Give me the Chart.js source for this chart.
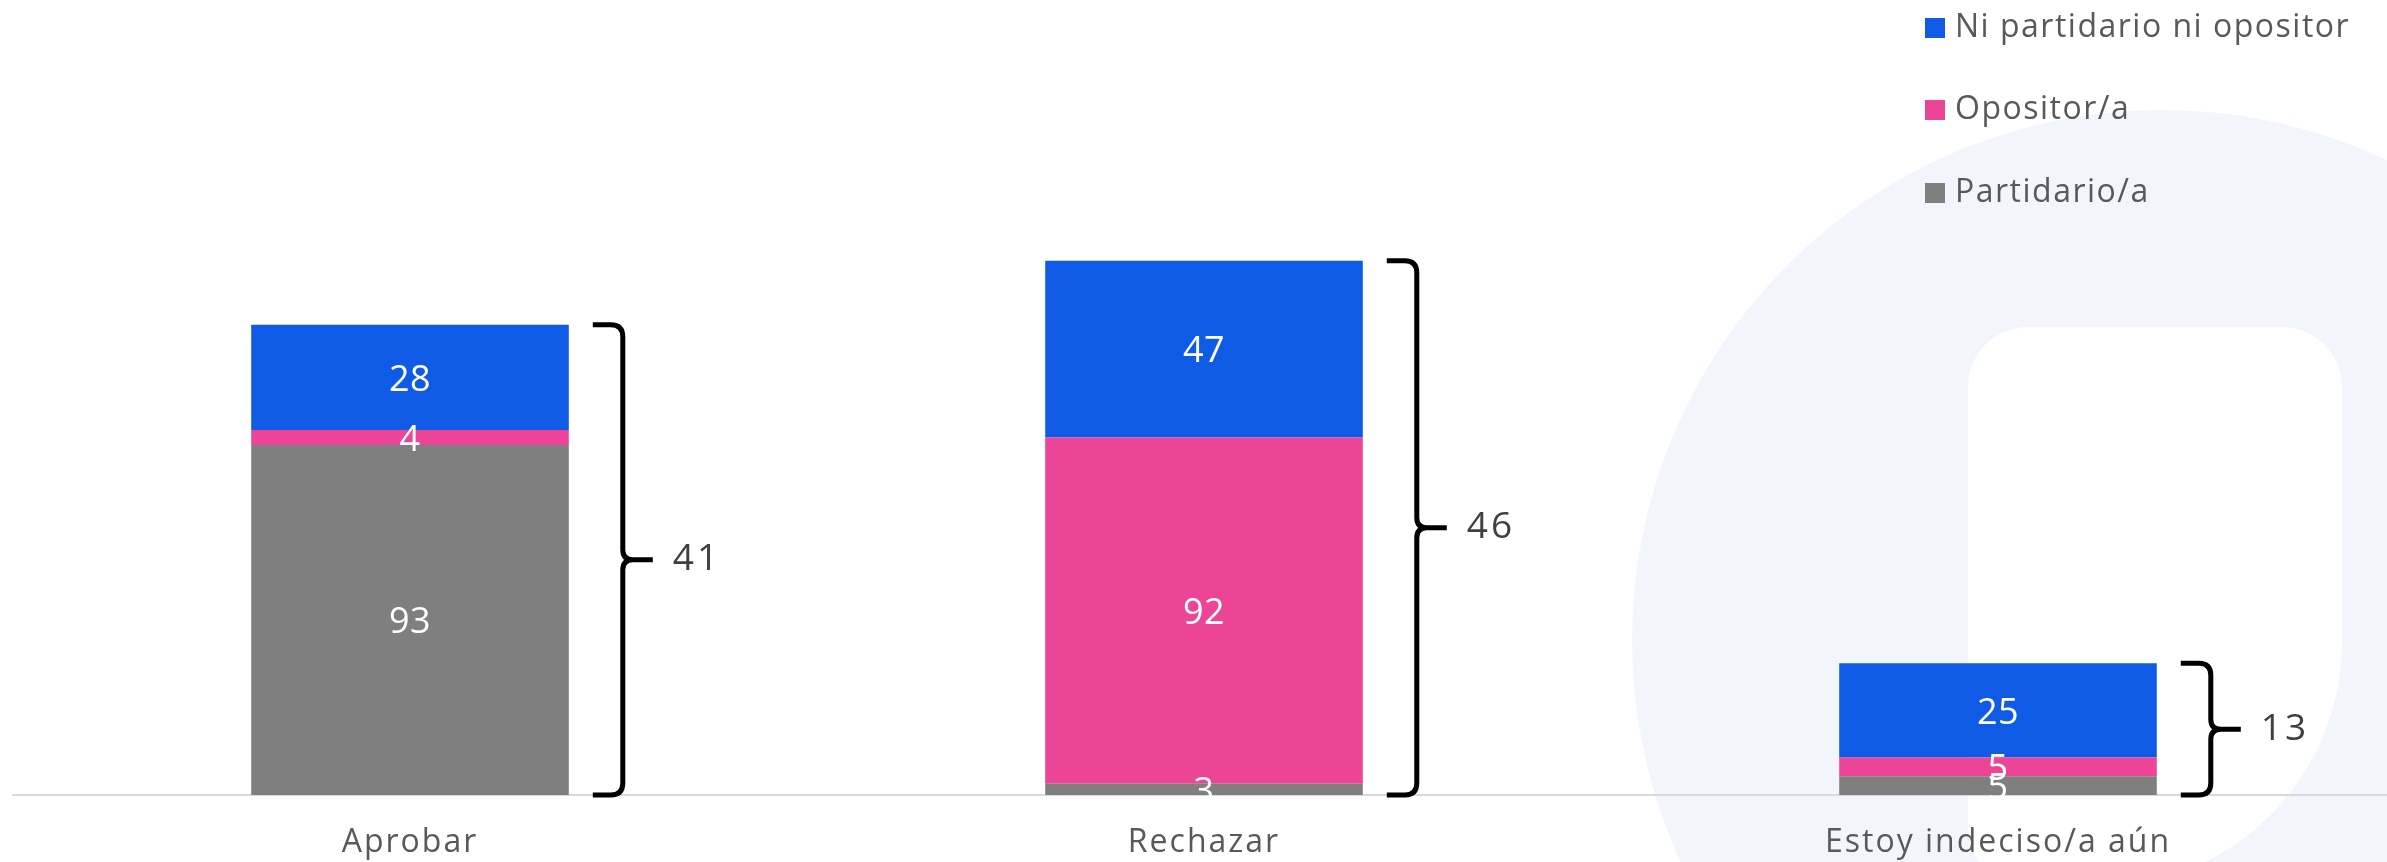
<!DOCTYPE html>
<html>
<head>
<meta charset="utf-8">
<script src="https://cdn.jsdelivr.net/npm/chart.js@4.4.1/dist/chart.umd.min.js"></script>
<style>
  html, body { margin: 0; padding: 0; background: #fff; overflow: hidden; }
  #wrap { width: 2395px; height: 862px; }
</style>
</head>
<body>
<div id="wrap"><canvas id="grafico" width="2395" height="862"></canvas></div>
<script>
// datos
var categorias = ['Aprobar', 'Rechazar', 'Estoy indeciso/a aún'];
var partidario = [93, 3, 5];
var opositor = [4, 92, 5];
var niPartidario = [28, 47, 25];
var totales = [41, 46, 13];

var FUENTE = '"Open Sans", "DejaVu Sans", sans-serif';

// fondo: marca de agua circular
const fondo = {
    id: 'fondo',
    beforeDraw(chart) {
        const ctx = chart.ctx;
        ctx.save();
        ctx.fillStyle = '#ffffff';
        ctx.fillRect(0, 0, chart.width, chart.height);
        ctx.fillStyle = '#F3F5FD';
        ctx.beginPath();
        ctx.arc(2162, 640, 530, 0, Math.PI * 2);
        ctx.fill();
        ctx.fillStyle = '#ffffff';
        ctx.beginPath();
        ctx.roundRect(1968, 327, 374, 560, [60, 60, 245, 60]);
        ctx.fill();
        ctx.restore();
        ctx.letterSpacing = '2px';
    },
    beforeLayout(chart) {
        chart.ctx.letterSpacing = '2px';
    }
};

// valores dentro de cada segmento
const etiquetas = {
    id: 'etiquetas',
    afterDatasetsDraw(chart) {
        const ctx = chart.ctx;
        ctx.save();
        ctx.letterSpacing = '0.5px';
        ctx.font = '36px ' + FUENTE;
        ctx.fillStyle = '#ffffff';
        ctx.textAlign = 'center';
        ctx.textBaseline = 'middle';
        chart.data.datasets.forEach(function (ds, i) {
            chart.getDatasetMeta(i).data.forEach(function (bar, j) {
                ctx.fillText(ds.data[j], bar.x, (bar.y + bar.base) / 2 + 3);
            });
        });
        ctx.restore();
    }
};

// llaves con el total de cada grupo
const llaves = {
    id: 'llaves',
    afterDatasetsDraw(chart) {
        const ctx = chart.ctx;
        const n = chart.data.datasets.length;
        const arriba = chart.getDatasetMeta(n - 1).data;
        const base = chart.scales.y.getPixelForValue(0);
        ctx.save();
        arriba.forEach(function (bar, j) {
            const der = bar.x + bar.width / 2;
            const x0 = der + 24, xv = der + 54, xt = der + 84;
            const top = bar.y, bot = base, mid = (top + bot) / 2;
            const r = 12, r2 = 10;
            ctx.strokeStyle = '#000000';
            ctx.lineWidth = 5;
            ctx.lineJoin = 'round';
            ctx.beginPath();
            ctx.moveTo(x0, top);
            ctx.lineTo(xv - r, top);
            ctx.quadraticCurveTo(xv, top, xv, top + r);
            ctx.lineTo(xv, mid - r2);
            ctx.quadraticCurveTo(xv, mid, xv + r2, mid);
            ctx.lineTo(xt, mid);
            ctx.moveTo(xv + r2, mid);
            ctx.quadraticCurveTo(xv, mid, xv, mid + r2);
            ctx.lineTo(xv, bot - r);
            ctx.quadraticCurveTo(xv, bot, xv - r, bot);
            ctx.lineTo(x0, bot);
            ctx.stroke();

            ctx.letterSpacing = '3px';
            ctx.font = '37px ' + FUENTE;
            ctx.fillStyle = '#404040';
            ctx.textAlign = 'left';
            ctx.textBaseline = 'middle';
            ctx.fillText(totales[j], xt + 20, mid);
        });
        ctx.restore();
    }
};

// leyenda vertical arriba a la derecha
const leyenda = {
    id: 'leyenda',
    afterDraw(chart) {
        const ctx = chart.ctx;
        const ds = chart.data.datasets.slice().reverse();
        const ys = [28, 110, 193];
        ctx.save();
        ctx.letterSpacing = '1.5px';
        ctx.font = '32px ' + FUENTE;
        ctx.textAlign = 'left';
        ctx.textBaseline = 'middle';
        ds.forEach(function (d, i) {
            ctx.fillStyle = d.backgroundColor;
            ctx.fillRect(1925, ys[i] - 10, 20, 20);
            ctx.fillStyle = '#595959';
            ctx.fillText(d.label, 1955, ys[i]);
        });
        ctx.restore();
    }
};

const grafico = document.getElementById('grafico');

var myChart = new Chart(grafico, {
    type: 'bar',
    data: {
        labels: categorias,
        datasets: [{
            label: 'Partidario/a',
            data: partidario,
            backgroundColor: '#7F7F7F'
        }, {
            label: 'Opositor/a',
            data: opositor,
            backgroundColor: '#EC4497'
        }, {
            label: 'Ni partidario ni opositor',
            data: niPartidario,
            backgroundColor: '#0F5BE6'
        }]
    },
    options: {
        responsive: false,
        animation: false,
        devicePixelRatio: 1,
        layout: {
            padding: { left: 13, right: 0, top: 193, bottom: 0 }
        },
        datasets: {
            bar: { categoryPercentage: 1, barPercentage: 0.4 }
        },
        plugins: {
            legend: { display: false },
            tooltip: { enabled: false }
        },
        scales: {
            x: {
                stacked: true,
                grid: { display: false, drawTicks: false },
                border: { display: true, color: '#D9D9D9', width: 2 },
                ticks: {
                    color: '#595959',
                    padding: 29,
                    font: { family: FUENTE, size: 32 }
                },
                afterFit(scale) { scale.height = 67; }
            },
            y: {
                stacked: true,
                display: false,
                min: 0,
                max: 160
            }
        }
    },
    plugins: [fondo, etiquetas, llaves, leyenda]
});
</script>
</body>
</html>
